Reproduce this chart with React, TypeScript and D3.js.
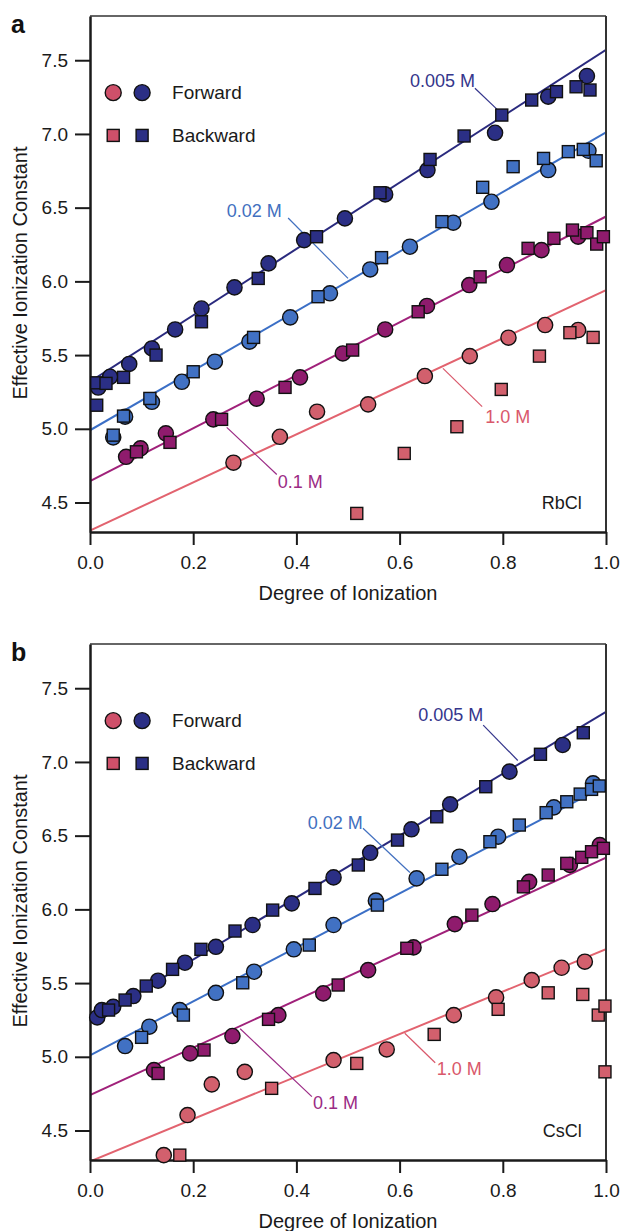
import React, { useEffect, useRef } from "react";
import * as d3 from "d3";

type Pt = [number, number];

const concentrations = ["0.005 M", "0.02 M", "0.1 M", "1.0 M"];
const xTicks = [0, 0.2, 0.4, 0.6, 0.8, 1.0];
const yTicks = [4.5, 5.0, 5.5, 6.0, 6.5, 7.0, 7.5];
const legendLabels = ["Forward", "Backward"];

// RbCl, forward runs (circles), one list per concentration
const rbForward: Pt[][] = [
  [[0.016, 5.28], [0.039, 5.353], [0.076, 5.44], [0.12, 5.545], [0.165, 5.674], [0.216, 5.816], [0.28, 5.959], [0.346, 6.122], [0.415, 6.28], [0.494, 6.427], [0.572, 6.59], [0.654, 6.755], [0.785, 7.008], [0.888, 7.253], [0.963, 7.393]],
  [[0.045, 4.942], [0.068, 5.082], [0.12, 5.183], [0.178, 5.319], [0.242, 5.455], [0.309, 5.591], [0.388, 5.756], [0.465, 5.919], [0.543, 6.081], [0.62, 6.235], [0.704, 6.398], [0.778, 6.54], [0.888, 6.755], [0.966, 6.886]],
  [[0.07, 4.81], [0.098, 4.867], [0.147, 4.969], [0.239, 5.064], [0.323, 5.204], [0.407, 5.349], [0.49, 5.511], [0.572, 5.674], [0.653, 5.833], [0.735, 5.975], [0.808, 6.111], [0.875, 6.212], [0.946, 6.303]],
  [[0.278, 4.77], [0.368, 4.946], [0.44, 5.116], [0.539, 5.166], [0.649, 5.358], [0.736, 5.493], [0.811, 5.618], [0.882, 5.704], [0.946, 5.67]],
];

// RbCl, backward runs (squares)
const rbBackward: Pt[][] = [
  [[0.013, 5.312], [0.013, 5.16], [0.031, 5.308], [0.065, 5.349], [0.128, 5.5], [0.216, 5.726], [0.326, 6.02], [0.439, 6.303], [0.562, 6.601], [0.659, 6.827], [0.725, 6.986], [0.798, 7.128], [0.856, 7.23], [0.904, 7.287], [0.942, 7.32], [0.969, 7.298]],
  [[0.045, 4.957], [0.065, 5.086], [0.116, 5.206], [0.2, 5.387], [0.317, 5.62], [0.442, 5.896], [0.565, 6.161], [0.682, 6.405], [0.761, 6.638], [0.82, 6.778], [0.879, 6.834], [0.927, 6.88], [0.956, 6.895], [0.981, 6.818]],
  [[0.09, 4.844], [0.155, 4.908], [0.255, 5.064], [0.378, 5.281], [0.509, 5.534], [0.636, 5.794], [0.756, 6.031], [0.849, 6.224], [0.899, 6.292], [0.935, 6.348], [0.963, 6.33], [0.982, 6.253], [0.995, 6.303]],
  [[0.517, 4.426], [0.609, 4.833], [0.711, 5.014], [0.797, 5.267], [0.871, 5.493], [0.93, 5.652], [0.975, 5.62]],
];

// fitted lines: value at x=0 and x=1
const rbFitStart = [5.32, 4.99, 4.645, 4.31];
const rbFitEnd = [7.57, 7.01, 6.44, 5.94];

// CsCl
const csForward: Pt[][] = [
  [[0.014, 5.267], [0.023, 5.317], [0.045, 5.339], [0.084, 5.412], [0.132, 5.516], [0.184, 5.638], [0.244, 5.746], [0.315, 5.894], [0.391, 6.041], [0.472, 6.217], [0.543, 6.384], [0.623, 6.543], [0.698, 6.712], [0.813, 6.934], [0.916, 7.115]],
  [[0.068, 5.073], [0.115, 5.204], [0.174, 5.317], [0.244, 5.434], [0.318, 5.577], [0.395, 5.729], [0.472, 5.894], [0.554, 6.059], [0.633, 6.21], [0.716, 6.357], [0.791, 6.493], [0.899, 6.692], [0.975, 6.855]],
  [[0.124, 4.91], [0.194, 5.023], [0.276, 5.141], [0.365, 5.283], [0.452, 5.43], [0.539, 5.588], [0.627, 5.742], [0.707, 5.9], [0.78, 6.036], [0.851, 6.187], [0.93, 6.301], [0.988, 6.436]],
  [[0.143, 4.333], [0.189, 4.605], [0.236, 4.813], [0.3, 4.898], [0.472, 4.978], [0.575, 5.05], [0.705, 5.283], [0.787, 5.403], [0.856, 5.52], [0.914, 5.604], [0.959, 5.645]],
];

const csBackward: Pt[][] = [
  [[0.036, 5.317], [0.068, 5.385], [0.109, 5.48], [0.16, 5.593], [0.215, 5.729], [0.281, 5.853], [0.354, 5.995], [0.436, 6.142], [0.52, 6.301], [0.596, 6.47], [0.672, 6.628], [0.767, 6.832], [0.873, 7.052], [0.956, 7.198]],
  [[0.1, 5.132], [0.181, 5.283], [0.296, 5.502], [0.425, 5.758], [0.557, 6.029], [0.682, 6.272], [0.775, 6.459], [0.832, 6.572], [0.884, 6.656], [0.924, 6.73], [0.95, 6.782], [0.972, 6.814], [0.987, 6.837]],
  [[0.132, 4.887], [0.221, 5.046], [0.346, 5.254], [0.481, 5.487], [0.614, 5.736], [0.74, 5.961], [0.84, 6.153], [0.888, 6.233], [0.924, 6.312], [0.953, 6.353], [0.972, 6.391], [0.995, 6.414]],
  [[0.174, 4.333], [0.352, 4.786], [0.517, 4.955], [0.667, 5.152], [0.791, 5.322], [0.888, 5.434], [0.955, 5.423], [0.985, 5.283], [0.998, 5.344], [0.998, 4.898]],
];

const csFitStart = [5.24, 5.01, 4.74, 4.29];
const csFitEnd = [7.34, 6.84, 6.35, 5.73];

// concentration call-outs, in data units: text start, leader from, leader to
const rbLabelAt: Pt[] = [[0.62, 7.36], [0.265, 6.48], [0.364, 4.64], [0.766, 5.08]];
const rbLeaders: [Pt, Pt][] = [
  [[0.746, 7.31], [0.791, 7.16]],
  [[0.384, 6.43], [0.5, 6.02]],
  [[0.265, 5.01], [0.362, 4.69]],
  [[0.684, 5.41], [0.76, 5.15]],
];
const csLabelAt: Pt[] = [[0.636, 7.32], [0.422, 6.59], [0.432, 4.69], [0.672, 4.92]];
const csLeaders: [Pt, Pt][] = [
  [[0.762, 7.25], [0.829, 7.01]],
  [[0.529, 6.55], [0.62, 6.25]],
  [[0.291, 5.19], [0.43, 4.73]],
  [[0.61, 5.16], [0.669, 4.96]],
];

const fillColors = ["#2b2f85", "#4171c3", "#8f1b6d", "#d2606d"];
const lineColors = ["#2a2a7e", "#3b6fc6", "#a0217a", "#e2636f"];
const textColors = ["#35368c", "#4270c0", "#9b2b85", "#d9586b"];
const legendColors = ["#cf506a", "#2b2f85"];

const panels = [
  { letter: "a", salt: "RbCl", top: 16, forward: rbForward, backward: rbBackward, fitStart: rbFitStart, fitEnd: rbFitEnd, labelAt: rbLabelAt, leaders: rbLeaders },
  { letter: "b", salt: "CsCl", top: 644, forward: csForward, backward: csBackward, fitStart: csFitStart, fitEnd: csFitEnd, labelAt: csLabelAt, leaders: csLeaders },
];

const W = 623;
const H = 1231;
const left = 90;
const right = 606;
const plotH = 516;
const font = "'Liberation Sans', Arial, Helvetica, sans-serif";

function App() {
  const svgRef = useRef<SVGSVGElement>(null);

  useEffect(() => {
    const svg = d3.select(svgRef.current);
    svg.selectAll("*").remove();

    panels.forEach((p, pi) => {
      const top = p.top;
      const bottom = top + plotH;
      const x = d3.scaleLinear().domain([0, 1]).range([left, right]);
      const y = d3.scaleLinear().domain([4.3, 7.8]).range([bottom, top]);
      const g = svg.append("g").style("font-family", font);

      const clipId = "clip" + pi;
      g.append("clipPath").attr("id", clipId)
        .append("rect").attr("x", left).attr("y", top).attr("width", right - left).attr("height", plotH);

      // fit lines
      p.fitStart.forEach((v, i) => {
        g.append("line")
          .attr("clip-path", `url(#${clipId})`)
          .attr("x1", x(0)).attr("y1", y(v))
          .attr("x2", x(1)).attr("y2", y(p.fitEnd[i]))
          .attr("stroke", lineColors[i]).attr("stroke-width", 2);
      });

      // frame top / right
      g.append("line").attr("x1", left).attr("x2", right).attr("y1", top).attr("y2", top)
        .attr("stroke", "#333").attr("stroke-width", 1.3);
      g.append("line").attr("x1", right).attr("x2", right).attr("y1", top).attr("y2", bottom)
        .attr("stroke", "#333").attr("stroke-width", 2);

      // axes
      const yAxis = g.append("g").attr("transform", `translate(${left},0)`)
        .call(d3.axisLeft(y).tickValues(yTicks).tickFormat(d3.format(".1f")).tickSize(15).tickPadding(7).tickSizeOuter(0));
      const xAxis = g.append("g").attr("transform", `translate(0,${bottom})`)
        .call(d3.axisBottom(x).tickValues(xTicks).tickFormat(d3.format(".1f")).tickSize(13).tickPadding(11).tickSizeOuter(0));
      [yAxis, xAxis].forEach((a) => {
        a.select(".domain").attr("stroke", "#1a1a1a").attr("stroke-width", 2.5);
        a.selectAll(".tick line").attr("stroke", "#1a1a1a").attr("stroke-width", 2);
        a.selectAll(".tick text").attr("fill", "#1a1a1a").style("font-size", "19px").style("font-family", font);
      });

      // axis titles and panel letter
      g.append("text")
        .attr("transform", `translate(27,${top + 257}) rotate(-90)`)
        .attr("text-anchor", "middle").attr("fill", "#1a1a1a").style("font-size", "20px")
        .text("Effective Ionization Constant");
      g.append("text")
        .attr("x", (left + right) / 2).attr("y", top + 584)
        .attr("text-anchor", "middle").attr("fill", "#1a1a1a").style("font-size", "20px")
        .text("Degree of Ionization");
      g.append("text")
        .attr("x", 11).attr("y", top + 17)
        .attr("fill", "#111").style("font-size", "25px").style("font-weight", "bold")
        .text(p.letter);
      g.append("text")
        .attr("x", x(0.953)).attr("y", y(4.5)).attr("dy", "0.35em")
        .attr("text-anchor", "end").attr("fill", "#1a1a1a").style("font-size", "18px")
        .text(p.salt);

      // legend
      const legendX = [0.045, 0.101];
      const legendY = [7.28, 6.99];
      legendColors.forEach((c, i) => {
        g.append("circle").attr("cx", x(legendX[i])).attr("cy", y(legendY[0])).attr("r", 8)
          .attr("fill", c).attr("stroke", "#111").attr("stroke-width", 1.4);
        g.append("rect").attr("x", x(legendX[i]) - 6).attr("y", y(legendY[1]) - 6)
          .attr("width", 12).attr("height", 12)
          .attr("fill", c).attr("stroke", "#111").attr("stroke-width", 1.4);
      });
      legendLabels.forEach((t, i) => {
        g.append("text").attr("x", x(0.159)).attr("y", y(legendY[i])).attr("dy", "0.35em")
          .attr("fill", "#1a1a1a").style("font-size", "19px").text(t);
      });

      // call-outs
      concentrations.forEach((c, i) => {
        const [a, b] = p.leaders[i];
        g.append("line")
          .attr("x1", x(a[0])).attr("y1", y(a[1])).attr("x2", x(b[0])).attr("y2", y(b[1]))
          .attr("stroke", textColors[i]).attr("stroke-width", 1.2);
        g.append("text")
          .attr("x", x(p.labelAt[i][0])).attr("y", y(p.labelAt[i][1])).attr("dy", "0.35em")
          .attr("fill", textColors[i]).style("font-size", "18px")
          .text(c);
      });

      // markers, low concentration drawn last
      for (let i = concentrations.length - 1; i >= 0; i--) {
        g.append("g").selectAll("circle").data(p.forward[i]).enter().append("circle")
          .attr("cx", (d) => x(d[0])).attr("cy", (d) => y(d[1])).attr("r", 7.6)
          .attr("fill", fillColors[i]).attr("stroke", "#111").attr("stroke-width", 1.4);
        g.append("g").selectAll("rect").data(p.backward[i]).enter().append("rect")
          .attr("x", (d) => x(d[0]) - 6).attr("y", (d) => y(d[1]) - 6)
          .attr("width", 12).attr("height", 12)
          .attr("fill", fillColors[i]).attr("stroke", "#111").attr("stroke-width", 1.4);
      }
    });
  }, []);

  return (
    <svg
      ref={svgRef}
      width={W}
      height={H}
      style={{ position: "absolute", left: 0, top: 0, background: "#fff" }}
    />
  );
}

export default App;
